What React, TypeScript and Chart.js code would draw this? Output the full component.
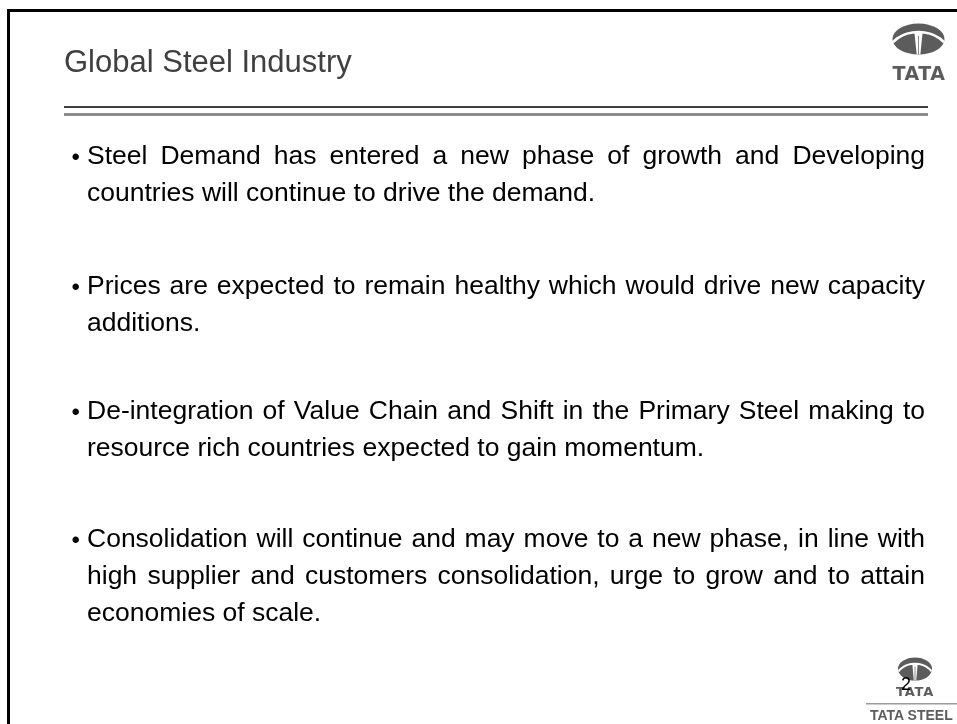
import React, { useEffect, useRef } from "react";
import { Chart, registerables } from "chart.js";

Chart.register(...registerables);

// ---- content ----
const TITLE = "Global Steel Industry";
const BULLETS: string[] = [
  "Steel Demand has entered a new phase of growth and Developing countries will continue to drive the demand.",
  "Prices are expected to remain healthy which would drive new capacity additions.",
  "De-integration of Value Chain and Shift in the Primary Steel making to resource rich countries expected to gain momentum.",
  "Consolidation will continue and may move to a new phase, in line with high supplier and customers consolidation, urge to grow and to attain economies of scale.",
];
const PAGE_NUMBER = "2";
const LOGO_WORD = "TATA";
const LOGO_BRAND = ["TATA", "STEEL"];

// ---- layout (positions / sizes kept separate) ----
const W = 957;
const H = 724;
const FONT = '"Liberation Sans", Arial, Helvetica, sans-serif';
const BODY_SIZE = 26.5;
const BODY_LH = 37;
const BULLET_TOPS = [137.3, 267.3, 392.3, 520.3];
const TEXT_LEFT = 87;
const TEXT_WIDTH = 838;

function drawEmblem(ctx: CanvasRenderingContext2D, cx: number, cy: number, rx: number, ry: number) {
  ctx.save();
  ctx.beginPath();
  ctx.ellipse(cx, cy, rx, ry, 0, 0, Math.PI * 2);
  ctx.fillStyle = "#5c5c5c";
  ctx.fill();
  ctx.clip();
  // curved crossbar
  ctx.strokeStyle = "#ffffff";
  ctx.lineWidth = Math.max(1.5, ry * 0.17);
  ctx.beginPath();
  ctx.ellipse(cx, cy + ry * 0.95, rx * 1.15, ry * 1.4, 0, Math.PI, Math.PI * 2);
  ctx.stroke();
  // stem
  const topY = cy - ry * 0.45;
  ctx.fillStyle = "#ffffff";
  ctx.beginPath();
  ctx.moveTo(cx - rx * 0.16, topY);
  ctx.lineTo(cx + rx * 0.16, topY);
  ctx.lineTo(cx + rx * 0.07, cy + ry);
  ctx.lineTo(cx - rx * 0.07, cy + ry);
  ctx.closePath();
  ctx.fill();
  ctx.strokeStyle = "#8a8a8a";
  ctx.lineWidth = 1;
  ctx.beginPath();
  ctx.moveTo(cx, topY + ry * 0.25);
  ctx.lineTo(cx, cy + ry);
  ctx.stroke();
  ctx.restore();
}

const slideDecor = {
  id: "slideDecor",
  afterDraw(chart: any) {
    const ctx: CanvasRenderingContext2D = chart.ctx;
    ctx.save();
    // frame
    ctx.fillStyle = "#000000";
    ctx.fillRect(7, 9, W - 7, 3);
    ctx.fillRect(7, 9, 3, H - 9);
    // double rule under title
    ctx.fillStyle = "#404040";
    ctx.fillRect(64, 106, 864, 2);
    ctx.fillStyle = "#8c8c8c";
    ctx.fillRect(64, 113, 864, 3);
    // bottom logo rule
    ctx.fillStyle = "#9a9a9a";
    ctx.fillRect(866, 703, W - 866, 1.5);
    ctx.restore();
    drawEmblem(ctx, 918.5, 39, 26, 15.5);
    drawEmblem(ctx, 915, 669, 17, 11.5);
  },
};

export default function App() {
  const canvasRef = useRef<HTMLCanvasElement | null>(null);

  useEffect(() => {
    if (!canvasRef.current) return;
    const chart = new Chart(canvasRef.current, {
      type: "bar",
      data: { labels: [], datasets: [] },
      options: {
        responsive: false,
        animation: false,
        events: [],
        layout: { padding: 0 },
        plugins: { legend: { display: false }, tooltip: { enabled: false }, title: { display: false } },
        scales: { x: { display: false }, y: { display: false } },
      },
      plugins: [slideDecor],
    });
    return () => chart.destroy();
  }, []);

  return (
    <div
      style={{
        position: "absolute",
        left: 0,
        top: 0,
        width: W,
        height: H,
        overflow: "hidden",
        background: "#ffffff",
        fontFamily: FONT,
      }}
    >
      <canvas ref={canvasRef} width={W} height={H} style={{ position: "absolute", left: 0, top: 0, width: W, height: H }} />
      <div
        style={{
          position: "absolute",
          left: 64,
          top: 42.3,
          fontSize: 31,
          lineHeight: "40px",
          color: "#404040",
          whiteSpace: "nowrap",
        }}
      >
        {TITLE}
      </div>
      {BULLETS.map((b, i) => (
        <React.Fragment key={i}>
          <div
            style={{
              position: "absolute",
              left: 71.5,
              top: BULLET_TOPS[i] + 0.5,
              fontSize: 24,
              lineHeight: BODY_LH + "px",
              color: "#000",
            }}
          >
            •
          </div>
          <div
            style={{
              position: "absolute",
              left: TEXT_LEFT,
              top: BULLET_TOPS[i],
              width: TEXT_WIDTH,
              fontSize: BODY_SIZE,
              lineHeight: BODY_LH + "px",
              textAlign: "justify",
              color: "#000",
            }}
          >
            {b}
          </div>
        </React.Fragment>
      ))}
      <div
        style={{
          position: "absolute",
          left: 890,
          top: 62.5,
          width: 58,
          textAlign: "center",
          fontSize: 19,
          lineHeight: "20px",
          fontWeight: 900,
          letterSpacing: 0.5,
          fontFamily: '"DejaVu Sans", sans-serif',
          color: "#5c5c5c",
          whiteSpace: "nowrap",
        }}
      >
        {LOGO_WORD}
      </div>
      <div
        style={{
          position: "absolute",
          left: 889,
          top: 684.5,
          width: 52,
          textAlign: "center",
          fontSize: 13,
          lineHeight: "14px",
          fontWeight: 900,
          letterSpacing: 0.8,
          fontFamily: '"DejaVu Sans", sans-serif',
          color: "#5c5c5c",
          whiteSpace: "nowrap",
        }}
      >
        {LOGO_WORD}
      </div>
      <div
        style={{
          position: "absolute",
          left: 870,
          top: 707,
          fontSize: 14,
          lineHeight: "16px",
          fontWeight: 700,
          color: "#5c5c5c",
          whiteSpace: "nowrap",
        }}
      >
        {LOGO_BRAND[0]} {LOGO_BRAND[1]}
      </div>
      <div
        style={{
          position: "absolute",
          left: 901,
          top: 673.8,
          fontSize: 18,
          lineHeight: "20px",
          color: "#000",
          whiteSpace: "nowrap",
        }}
      >
        {PAGE_NUMBER}
      </div>
    </div>
  );
}
